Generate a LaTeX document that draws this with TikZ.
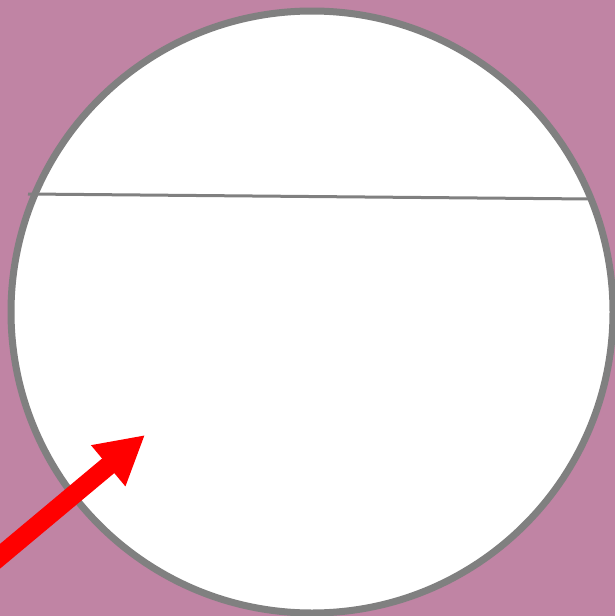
\documentclass[tikz,border=0pt]{standalone}
\usepackage{tikz}
\usetikzlibrary{arrows.meta}
\definecolor{bgmauve}{RGB}{192,132,164}
\definecolor{rimgray}{RGB}{128,128,128}
\tikzset{
    rim/.style={draw=rimgray, line width=7pt, fill=white},
    chord/.style={draw=rimgray, line width=3pt},
    pointer/.style={-{Triangle[length=48pt, width=50pt]}, draw=red, line width=19pt}
}
\begin{document}
\begin{tikzpicture}[x=1pt,y=-1pt]

% background
\fill[bgmauve] (0,0) rectangle (615,616);
\useasboundingbox (0,0) rectangle (615,616);
\clip (0,0) rectangle (615,616);

% circle and chord
\draw[rim] (312,312) circle (301);
\coordinate (chordL) at (28,194);
\coordinate (chordR) at (590,199);
\draw[chord] (chordL) -- (chordR);

% red arrow
\coordinate (tail) at (-20,573);
\coordinate (tip) at (145,435);
\draw[pointer] (tail) -- (tip);

\end{tikzpicture}
\end{document}
